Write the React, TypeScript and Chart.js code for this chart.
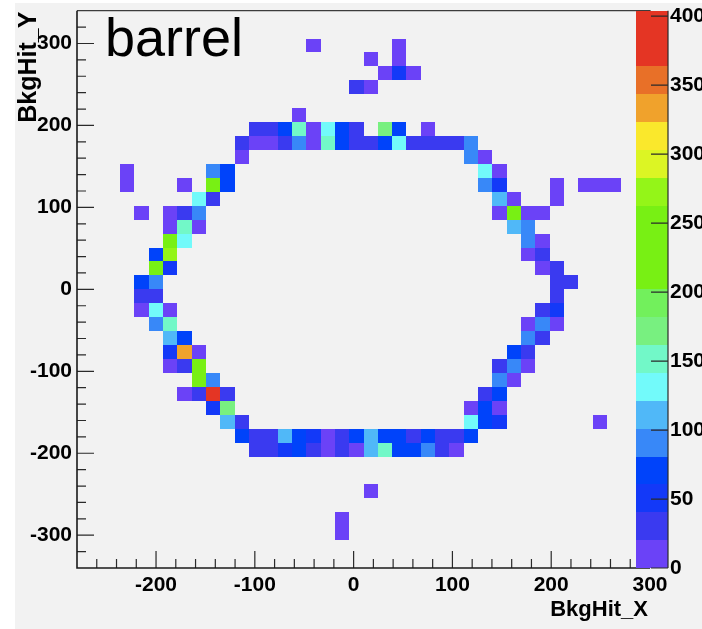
import React, { useEffect, useRef } from "react";
import { Chart, registerables } from "chart.js";

Chart.register(...registerables);

// ---- histogram binning (BkgHit_X vs BkgHit_Y) ----
const X_MIN = -280;
const X_MAX = 300;
const X_BINS = 40;
const Y_MIN = -340;
const Y_MAX = 340;
const Y_BINS = 40;
const Z_MAX = 404;
const Z_LEVELS = 20;

const xTickValues = [-200, -100, 0, 100, 200, 300];
const yTickValues = [-300, -200, -100, 0, 100, 200, 300];
const zTickValues = [0, 50, 100, 150, 200, 250, 300, 350, 400];

const xTitle = "BkgHit_X";
const yTitle = "BkgHit_Y";
const label = "barrel";

// colour of each contour level, lowest first
const paletteColors = [
  "#6b42f7", "#3a3af0", "#1339f8", "#0043fa", "#3888f8",
  "#50b8f8", "#72fafa", "#72f8c8", "#78f080", "#72f05c",
  "#78f014", "#78f014", "#78f014", "#94f518", "#dcf524",
  "#fae82c", "#f0a22c", "#e87028", "#e43524", "#e43524",
];

// [x bin, y bin, entries]
const hits: [number, number, number][] = [
  [16, 37, 9], [22, 37, 8],
  [20, 36, 10], [22, 36, 9],
  [21, 35, 11], [22, 35, 52], [23, 35, 10],
  [19, 34, 30], [20, 34, 12],
  [15, 32, 9],
  [12, 31, 31], [13, 31, 29], [14, 31, 68], [15, 31, 152], [16, 31, 13], [17, 31, 131], [18, 31, 66], [19, 31, 32], [21, 31, 172], [22, 31, 69], [24, 31, 10],
  [11, 30, 30], [12, 30, 12], [13, 30, 11], [14, 30, 33], [15, 30, 92], [16, 30, 14], [17, 30, 149], [18, 30, 64], [19, 30, 31], [20, 30, 29], [21, 30, 71], [22, 30, 128], [23, 30, 30], [24, 30, 28], [25, 30, 32], [26, 30, 30], [27, 30, 88],
  [11, 29, 10], [27, 29, 91], [28, 29, 12],
  [3, 28, 11], [9, 28, 93], [10, 28, 67], [28, 28, 129], [29, 28, 13],
  [3, 27, 10], [7, 27, 12], [9, 27, 228], [10, 27, 70], [28, 27, 89], [29, 27, 51], [33, 27, 9], [35, 27, 11], [36, 27, 10], [37, 27, 12],
  [8, 26, 132], [9, 26, 33], [29, 26, 108], [30, 26, 13], [33, 26, 10],
  [4, 25, 9], [6, 25, 14], [7, 25, 31], [8, 25, 90], [29, 25, 12], [30, 25, 235], [31, 25, 11], [32, 25, 13],
  [6, 24, 13], [7, 24, 151], [8, 24, 12], [30, 24, 112], [31, 24, 87],
  [6, 23, 232], [7, 23, 130], [31, 23, 91], [32, 23, 11],
  [5, 22, 72], [6, 22, 268], [31, 22, 12], [32, 22, 31],
  [5, 21, 226], [6, 21, 53], [32, 21, 10], [33, 21, 29],
  [4, 20, 69], [5, 20, 90], [33, 20, 32], [34, 20, 30],
  [4, 19, 33], [5, 19, 31], [33, 19, 29],
  [4, 18, 12], [5, 18, 129], [6, 18, 13], [32, 18, 30], [33, 18, 50],
  [5, 17, 92], [6, 17, 148], [31, 17, 11], [32, 17, 89], [33, 17, 12],
  [6, 16, 111], [7, 16, 68], [31, 16, 90], [32, 16, 33],
  [6, 15, 52], [7, 15, 332], [8, 15, 13], [30, 15, 71], [31, 15, 30],
  [6, 14, 12], [7, 14, 31], [8, 14, 229], [29, 14, 29], [30, 14, 91], [31, 14, 11],
  [8, 13, 231], [9, 13, 88], [29, 13, 92], [30, 13, 12],
  [7, 12, 13], [8, 12, 32], [9, 12, 404], [10, 12, 31], [28, 12, 30], [29, 12, 70],
  [9, 11, 49], [10, 11, 169], [27, 11, 11], [28, 11, 69], [29, 11, 10],
  [10, 10, 109], [11, 10, 33], [27, 10, 131], [28, 10, 72], [29, 10, 48], [36, 10, 9],
  [11, 9, 68], [12, 9, 31], [13, 9, 29], [14, 9, 112], [15, 9, 70], [16, 9, 51], [17, 9, 11], [18, 9, 32], [19, 9, 66], [20, 9, 109], [21, 9, 71], [22, 9, 68], [23, 9, 30], [24, 9, 69], [25, 9, 31], [26, 9, 29], [27, 9, 67],
  [12, 8, 30], [13, 8, 32], [14, 8, 53], [15, 8, 71], [16, 8, 31], [17, 8, 12], [18, 8, 30], [19, 8, 11], [20, 8, 110], [21, 8, 150], [22, 8, 69], [23, 8, 72], [24, 8, 89], [25, 8, 31], [26, 8, 13],
  [20, 5, 10],
  [18, 3, 9],
  [18, 2, 11],
];

const XW = (X_MAX - X_MIN) / X_BINS;
const YW = (Y_MAX - Y_MIN) / Y_BINS;
const ZW = Z_MAX / Z_LEVELS;

const FAMILY = '"Liberation Sans", Arial, Helvetica, sans-serif';
const tickFont = { family: FAMILY, size: 21, weight: "bold" as const };

function levelColor(v: number) {
  const k = Math.min(Z_LEVELS - 1, Math.max(0, Math.floor(v / ZW)));
  return paletteColors[k];
}

function zeroPad(s: any) {
  s.paddingTop = 0;
  s.paddingBottom = 0;
  s.paddingLeft = 0;
  s.paddingRight = 0;
}

const histPlugin = {
  id: "rootHist",
  beforeDraw(chart: any) {
    const ctx = chart.ctx;
    ctx.save();
    ctx.fillStyle = "#ffffff";
    ctx.fillRect(0, 0, chart.width, chart.height);
    ctx.fillStyle = "#f2f2f2";
    ctx.fillRect(15, 3, chart.width - 15, chart.height - 3);
    ctx.restore();
  },
  beforeDatasetsDraw(chart: any) {
    const ctx = chart.ctx;
    const xs = chart.scales.x;
    const ys = chart.scales.y;
    const ds = chart.data.datasets[0].data as any[];
    ctx.save();
    for (const p of ds) {
      const x0 = Math.round(xs.getPixelForValue(p.x - XW / 2));
      const x1 = Math.round(xs.getPixelForValue(p.x + XW / 2));
      const y0 = Math.round(ys.getPixelForValue(p.y - YW / 2));
      const y1 = Math.round(ys.getPixelForValue(p.y + YW / 2));
      ctx.fillStyle = levelColor(p.v);
      ctx.fillRect(x0, y1, x1 - x0, y0 - y1);
    }
    ctx.restore();
  },
  afterDatasetsDraw(chart: any) {
    const ctx = chart.ctx;
    const { left, right, top, bottom } = chart.chartArea;
    const xs = chart.scales.x;
    const ys = chart.scales.y;
    ctx.save();
    // frame
    ctx.strokeStyle = "#3c3c3c";
    ctx.lineWidth = 1.2;
    ctx.beginPath();
    ctx.moveTo(left, top);
    ctx.lineTo(right, top);
    ctx.lineTo(right, bottom);
    ctx.stroke();
    // ticks
    ctx.strokeStyle = "#2a2a2a";
    ctx.lineWidth = 1.2;
    ctx.beginPath();
    for (let v = Y_MIN + 20; v < Y_MAX; v += 20) {
      const py = ys.getPixelForValue(v);
      const len = v % 100 === 0 ? 17 : 9;
      ctx.moveTo(left, py);
      ctx.lineTo(left + len, py);
    }
    for (let v = X_MIN + 20; v <= X_MAX; v += 20) {
      const px = xs.getPixelForValue(v);
      const len = v % 100 === 0 ? 17 : 9;
      ctx.moveTo(px, bottom);
      ctx.lineTo(px, bottom - len);
    }
    ctx.stroke();
    // axes
    ctx.strokeStyle = "#1a1a1a";
    ctx.lineWidth = 1.6;
    ctx.beginPath();
    ctx.moveTo(left, top);
    ctx.lineTo(left, bottom);
    ctx.lineTo(right, bottom);
    ctx.stroke();
    ctx.restore();
  },
  afterDraw(chart: any) {
    const ctx = chart.ctx;
    const { right, top, left } = chart.chartArea;
    const zs = chart.scales.z;
    const px0 = right - 14;
    const px1 = right + 18;
    ctx.save();
    // palette
    for (let k = 0; k < Z_LEVELS; k++) {
      const yA = Math.round(zs.getPixelForValue(k * ZW));
      const yB = Math.round(zs.getPixelForValue((k + 1) * ZW));
      ctx.fillStyle = paletteColors[k];
      ctx.fillRect(px0, yB, px1 - px0, yA - yB);
    }
    ctx.strokeStyle = "#2a2a2a";
    ctx.lineWidth = 1.2;
    ctx.beginPath();
    ctx.moveTo(px1, zs.getPixelForValue(Z_MAX));
    ctx.lineTo(px1, zs.getPixelForValue(0));
    for (const v of zTickValues) {
      const py = zs.getPixelForValue(v);
      ctx.moveTo(px1, py);
      ctx.lineTo(px1 - 17, py);
    }
    ctx.stroke();
    // axis titles
    ctx.fillStyle = "#000";
    ctx.font = `bold 22px ${FAMILY}`;
    ctx.textAlign = "right";
    ctx.textBaseline = "alphabetic";
    ctx.fillText(xTitle, right - 2, 616);
    ctx.save();
    ctx.font = `bold 25px ${FAMILY}`;
    ctx.translate(36, top + 1);
    ctx.rotate(-Math.PI / 2);
    ctx.fillText(yTitle, 0, 0);
    ctx.restore();
    // pave label
    ctx.font = `54px ${FAMILY}`;
    ctx.textAlign = "left";
    ctx.fillText(label, left + 28, 56);
    ctx.restore();
  },
};

export default function App() {
  const ref = useRef<HTMLCanvasElement>(null);
  useEffect(() => {
    const canvas = ref.current;
    if (!canvas) return;
    const chart = new Chart(canvas, {
      type: "scatter",
      data: {
        datasets: [
          {
            label: "BkgHit",
            data: hits.map(([i, j, v]) => ({
              x: X_MIN + (i + 0.5) * XW,
              y: Y_MIN + (j + 0.5) * YW,
              v,
            })) as any,
            pointRadius: 0,
            pointHoverRadius: 0,
          },
        ],
      },
      options: {
        responsive: false,
        animation: false,
        devicePixelRatio: 1,
        events: [],
        layout: { padding: { top: 10.7, left: 0, right: 0, bottom: 0 } },
        plugins: {
          legend: { display: false },
          tooltip: { enabled: false },
          title: { display: false },
        },
        scales: {
          x: {
            type: "linear",
            min: X_MIN,
            max: X_MAX,
            grid: { display: false, drawTicks: false, tickLength: 0 },
            border: { display: false },
            afterFit: (s: any) => {
              s.height = 61;
              zeroPad(s);
            },
            afterBuildTicks: (s: any) => {
              s.ticks = xTickValues.map((value) => ({ value }));
            },
            ticks: {
              padding: 5,
              font: tickFont,
              color: "#000",
              maxRotation: 0,
              autoSkip: false,
              callback: (v: any) => String(v),
            },
          },
          y: {
            type: "linear",
            position: "left",
            min: Y_MIN,
            max: Y_MAX,
            grid: { display: false, drawTicks: false, tickLength: 0 },
            border: { display: false },
            afterFit: (s: any) => {
              s.width = 77;
              zeroPad(s);
            },
            afterBuildTicks: (s: any) => {
              s.ticks = yTickValues.map((value) => ({ value }));
            },
            ticks: {
              padding: 5,
              font: tickFont,
              color: "#000",
              autoSkip: false,
              callback: (v: any) => String(v),
            },
          },
          z: {
            type: "linear",
            axis: "y",
            position: "right",
            min: 0,
            max: Z_MAX,
            grid: { display: false, drawTicks: false, tickLength: 0 },
            border: { display: false },
            afterFit: (s: any) => {
              s.width = 52;
              zeroPad(s);
            },
            afterBuildTicks: (s: any) => {
              s.ticks = zTickValues.map((value) => ({ value }));
            },
            ticks: {
              padding: 20,
              font: tickFont,
              color: "#000",
              autoSkip: false,
              callback: (v: any) => String(v),
            },
          },
        } as any,
      },
      plugins: [histPlugin],
    });
    return () => chart.destroy();
  }, []);
  return (
    <div style={{ position: "fixed", left: 0, top: 0, width: 702, height: 629 }}>
      <canvas ref={ref} width={702} height={629} style={{ display: "block", width: 702, height: 629 }} />
    </div>
  );
}
